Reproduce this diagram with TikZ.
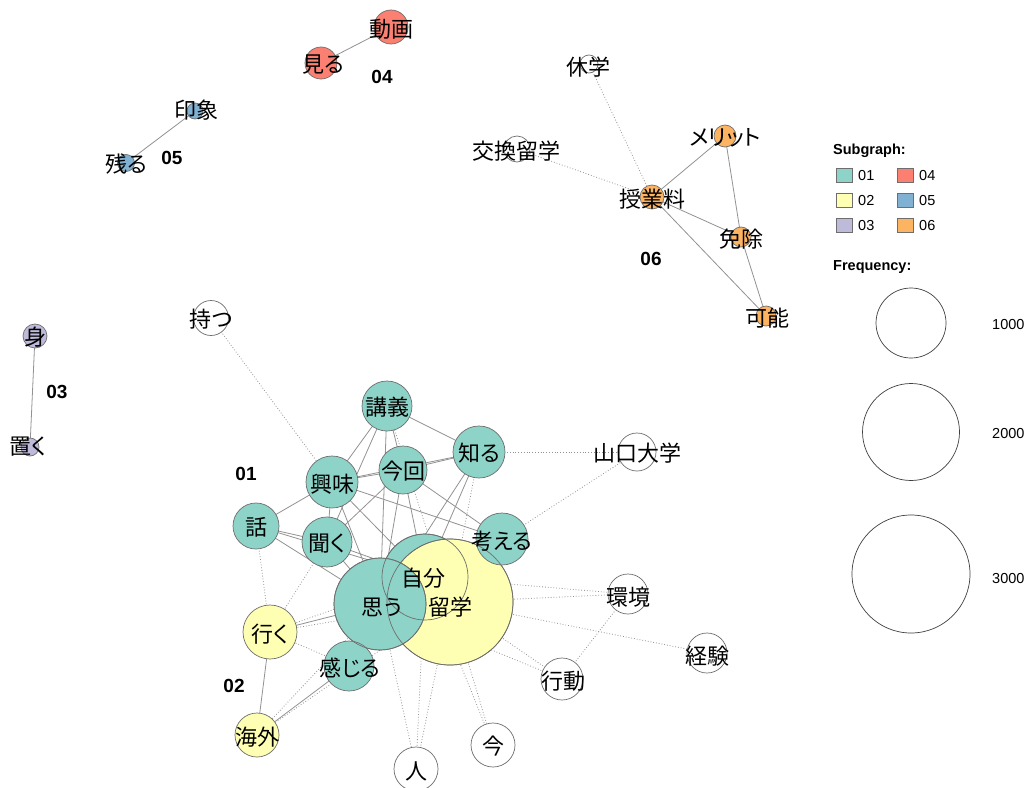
\documentclass[tikz,border=0pt]{standalone}
\usepackage{fontspec}
\newfontfamily\jp{Noto Sans CJK JP}[RawFeature=+palt]
\newfontfamily\lgd{Liberation Sans}
\definecolor{c01}{HTML}{8DD3C7}
\definecolor{c02}{HTML}{FFFFB3}
\definecolor{c03}{HTML}{BEBADA}
\definecolor{c04}{HTML}{FB8072}
\definecolor{c05}{HTML}{80B1D3}
\definecolor{c06}{HTML}{FDB462}
\definecolor{ol}{HTML}{6E6E6E}
\definecolor{edgecol}{HTML}{929292}
\pgfdeclarelayer{bg}
\pgfdeclarelayer{edges}
\pgfsetlayers{bg,edges,main}
\tikzset{
  nd/.style={circle, draw=ol, line width=0.7pt, inner sep=0pt, fill=#1},
  ndo/.style={circle, draw=ol, line width=0.7pt, inner sep=0pt},
  lbl/.style={font=\jp\fontsize{22}{22}\selectfont, inner sep=0pt, text=black},
  grp/.style={font=\lgd\bfseries\fontsize{19}{19}\selectfont, inner sep=0pt},
  sedge/.style={draw=edgecol, line width=0.8pt},
  dedge/.style={draw=edgecol, line width=0.8pt, dash pattern=on 0.8pt off 2pt},
  lgtext/.style={font=\lgd\fontsize{14.5}{14.5}\selectfont, inner sep=0pt, anchor=west},
  lgtitle/.style={font=\lgd\bfseries\fontsize{14.5}{14.5}\selectfont, inner sep=0pt, anchor=west},
  lgsq/.style={draw=ol, line width=0.7pt, minimum width=16pt, minimum height=14pt, inner sep=0pt, fill=#1},
  lgcirc/.style={circle, draw=black!75, line width=0.7pt, inner sep=0pt}
}
\begin{document}
\begin{tikzpicture}[x=1pt,y=-1pt]
\useasboundingbox (0,0) rectangle (1032,787);
\begin{pgfonlayer}{bg}
\fill[white] (0,0) rectangle (1032,787);
\end{pgfonlayer}

% ---- nodes (circles) ----
\node[nd=c04, minimum size=34pt] (doga) at (391,27) {};
\node[nd=c04, minimum size=32pt] (miru) at (321,63) {};
\node[nd=c05, minimum size=16pt] (insho) at (195,111) {};
\node[nd=c05, minimum size=17pt] (nokoru) at (126,163) {};
\node[nd=c03, minimum size=24pt] (mi) at (35,336) {};
\node[nd=c03, minimum size=18pt] (oku) at (30,447) {};
\node[nd=white, minimum size=35pt] (motsu) at (211,318) {};
\node[nd=white, minimum size=18pt] (kyugaku) at (589,64) {};
\node[nd=white, minimum size=26pt] (koukan) at (517,149) {};
\node[nd=c06, minimum size=24pt] (jugyo) at (652,197) {};
\node[nd=c06, minimum size=22pt] (merit) at (725,136) {};
\node[nd=c06, minimum size=20pt] (menjo) at (741,237) {};
\node[nd=c06, minimum size=20pt] (kanou) at (766,316) {};
\node[nd=c01, minimum size=50pt] (koogi) at (387,406) {};
\node[nd=c01, minimum size=52pt] (shiru) at (479,452) {};
\node[nd=c01, minimum size=48pt] (konkai) at (403,470) {};
\node[nd=c01, minimum size=52pt] (kyoumi) at (332,482) {};
\node[nd=c01, minimum size=46pt] (hanashi) at (256,526) {};
\node[nd=c01, minimum size=50pt] (kiku) at (327,542) {};
\node[nd=white, minimum size=38pt] (yamaguchi) at (637,452) {};
\node[nd=white, minimum size=40pt] (kankyou) at (628,594) {};
\node[nd=white, minimum size=40pt] (keiken) at (707,653) {};
\node[nd=white, minimum size=42pt] (koudou) at (562,679) {};
\node[nd=white, minimum size=44pt] (hito) at (416,769) {};
\node[nd=white, minimum size=44pt] (ima) at (493,745) {};
\node[nd=c02, minimum size=54pt] (iku) at (270,632) {};
\node[nd=c02, minimum size=44pt] (kaigai) at (257,735) {};
\node[nd=c01, minimum size=86pt] (jibun) at (425,577) {};
\node[nd=c02, minimum size=126pt] (ryugaku) at (450,602) {};
\node[nd=c01, minimum size=92pt] (omou) at (380,604) {};
\node[nd=c01, minimum size=52pt] (kangaeru) at (502,539) {};
\node[nd=c01, minimum size=50pt] (kanjiru) at (349,666) {};
% outlines over the overlapping fills
\node[ndo, minimum size=86pt] (jibun-o) at (jibun) {};
\node[ndo, minimum size=126pt] (ryugaku-o) at (ryugaku) {};
\node[ndo, minimum size=92pt] (omou-o) at (omou) {};

% ---- edges ----
\begin{pgfonlayer}{edges}
\foreach \a/\b in {koogi/shiru, koogi/kyoumi, koogi/kiku, koogi/omou, koogi/konkai,
  shiru/konkai, shiru/kyoumi, shiru/omou, shiru/jibun,
  konkai/kyoumi, konkai/kiku, konkai/omou, konkai/jibun, konkai/kangaeru,
  kyoumi/hanashi, kyoumi/kiku, kyoumi/omou, kyoumi/kangaeru, kyoumi/jibun,
  hanashi/kiku, hanashi/omou, hanashi/jibun,
  kiku/omou, kiku/jibun, kangaeru/omou, kangaeru/jibun,
  omou/jibun, omou/kanjiru, omou/iku, iku/kaigai, kanjiru/kaigai,
  doga/miru, insho/nokoru, mi/oku,
  jugyo/merit, jugyo/menjo, jugyo/kanou, merit/menjo, menjo/kanou}
  \draw[sedge] (\a.center) -- (\b.center);
\foreach \a/\b in {motsu/kyoumi, shiru/yamaguchi, kangaeru/yamaguchi,
  ryugaku/kankyou, jibun/kankyou, ryugaku/keiken, ryugaku/koudou, omou/koudou,
  kankyou/koudou, omou/hito, ryugaku/hito, jibun/hito, jibun/ima, ryugaku/ima,
  shiru/ryugaku, koogi/ryugaku, iku/hanashi, iku/kiku, iku/ryugaku, iku/jibun,
  iku/kanjiru, kaigai/omou, kaigai/ryugaku, kyugaku/jugyo, koukan/jugyo}
  \draw[dedge] (\a.center) -- (\b.center);
\end{pgfonlayer}

% ---- labels ----
\node[lbl] (t-doga) at (391,29) {動画};
\node[lbl] (t-miru) at (323,65) {見る};
\node[lbl] (t-insho) at (196,110) {印象};
\node[lbl] (t-nokoru) at (126,164) {残る};
\node[lbl] (t-mi) at (35,337) {身};
\node[lbl] (t-oku) at (28,447) {置く};
\node[lbl] (t-motsu) at (211,319) {持つ};
\node[lbl] (t-kyugaku) at (588,67) {休学};
\node[lbl] (t-koukan) at (516,151) {交換留学};
\node[lbl] (t-jugyo) at (652,199) {授業料};
\node[lbl] (t-merit) at (725,138) {メリット};
\node[lbl] (t-menjo) at (741,239) {免除};
\node[lbl] (t-kanou) at (767,318) {可能};
\node[lbl] (t-koogi) at (387,407) {講義};
\node[lbl] (t-shiru) at (479,453) {知る};
\node[lbl] (t-konkai) at (403,471) {今回};
\node[lbl] (t-kyoumi) at (332,484) {興味};
\node[lbl] (t-hanashi) at (256,527) {話};
\node[lbl] (t-kiku) at (327,544) {聞く};
\node[lbl] (t-kangaeru) at (502,541) {考える};
\node[lbl] (t-jibun) at (423,578) {自分};
\node[lbl] (t-omou) at (382,607) {思う};
\node[lbl] (t-ryugaku) at (450,607) {留学};
\node[lbl] (t-iku) at (270,634) {行く};
\node[lbl] (t-kanjiru) at (350,668) {感じる};
\node[lbl] (t-kaigai) at (257,737) {海外};
\node[lbl] (t-hito) at (416,771) {人};
\node[lbl] (t-ima) at (493,746) {今};
\node[lbl] (t-koudou) at (563,681) {行動};
\node[lbl] (t-keiken) at (707,656) {経験};
\node[lbl] (t-kankyou) at (628,597) {環境};
\node[lbl] (t-yamaguchi) at (637,453) {山口大学};

% ---- subgraph numbers ----
\node[grp] (g01) at (246,474) {01};
\node[grp] (g02) at (234,686) {02};
\node[grp] (g03) at (57,392) {03};
\node[grp] (g04) at (382,77) {04};
\node[grp] (g05) at (172,158) {05};
\node[grp] (g06) at (651,259) {06};

% ---- legend ----
\node[lgtitle] (lg-sub) at (833,151) {Subgraph:};
\node[lgsq=c01] (sq1) at (844.5,175) {};
\node[lgtext] (tx1) at (858,176) {01};
\node[lgsq=c02] (sq2) at (844.5,200) {};
\node[lgtext] (tx2) at (858,201) {02};
\node[lgsq=c03] (sq3) at (844.5,225) {};
\node[lgtext] (tx3) at (858,226) {03};
\node[lgsq=c04] (sq4) at (905.5,175) {};
\node[lgtext] (tx4) at (919,176) {04};
\node[lgsq=c05] (sq5) at (905.5,200) {};
\node[lgtext] (tx5) at (919,201) {05};
\node[lgsq=c06] (sq6) at (905.5,225) {};
\node[lgtext] (tx6) at (919,226) {06};
\node[lgtitle] (lg-freq) at (833,267) {Frequency:};
\node[lgcirc, minimum size=70pt] (fc1) at (911,323) {};
\node[lgtext] (fl1) at (992,325) {1000};
\node[lgcirc, minimum size=97pt] (fc2) at (911,432) {};
\node[lgtext] (fl2) at (992,434) {2000};
\node[lgcirc, minimum size=118pt] (fc3) at (911,574) {};
\node[lgtext] (fl3) at (992,578) {3000};
\end{tikzpicture}
\end{document}
